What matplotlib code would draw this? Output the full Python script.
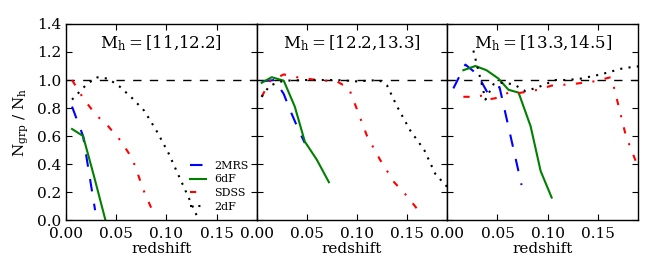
# group completeness vs redshift in three halo mass bins
import numpy as np
import matplotlib
matplotlib.use("Agg")
import matplotlib.pyplot as plt

plt.rcParams['font.family'] = 'serif'
plt.rcParams['font.serif'] = ['DejaVu Serif']
plt.rcParams['mathtext.fontset'] = 'dejavuserif'
plt.rcParams['font.size'] = 11

mass_bins = ["[11{,}12.2]", "[12.2{,}13.3]", "[13.3{,}14.5]"]
survey_names = ["2MRS", "6dF", "SDSS", "2dF"]

# panel 1: M_h = [11,12.2]
z_2mrs_1 = [0.006, 0.017, 0.029]
f_2mrs_1 = [0.81, 0.60, 0.07]
z_6df_1 = [0.006, 0.017, 0.028, 0.040]
f_6df_1 = [0.65, 0.60, 0.31, -0.02]
z_sdss_1 = [0.006, 0.018, 0.030, 0.042, 0.054, 0.066, 0.078, 0.089]
f_sdss_1 = [1.00, 0.86, 0.75, 0.67, 0.57, 0.44, 0.20, 0.02]
z_2df_1 = [0.006, 0.018, 0.030, 0.042, 0.054, 0.066, 0.078, 0.090, 0.102, 0.114, 0.126, 0.131]
f_2df_1 = [0.86, 0.95, 1.02, 1.01, 0.95, 0.87, 0.78, 0.64, 0.48, 0.29, 0.10, 0.02]

# panel 2: M_h = [12.2,13.3]
z_2mrs_2 = [0.005, 0.018, 0.027, 0.033, 0.042, 0.048]
f_2mrs_2 = [0.99, 1.00, 0.90, 0.79, 0.64, 0.55]
z_6df_2 = [0.005, 0.015, 0.027, 0.038, 0.048, 0.060, 0.072]
f_6df_2 = [0.98, 1.02, 0.995, 0.81, 0.56, 0.43, 0.27]
z_sdss_2 = [0.005, 0.013, 0.027, 0.040, 0.060, 0.080, 0.092, 0.100, 0.110, 0.123, 0.137, 0.150, 0.162]
f_sdss_2 = [0.88, 0.99, 1.04, 1.02, 1.00, 0.99, 0.94, 0.79, 0.60, 0.43, 0.27, 0.17, 0.06]
z_2df_2 = [0.005, 0.013, 0.027, 0.050, 0.080, 0.100, 0.122, 0.130, 0.140, 0.153, 0.167, 0.178, 0.188, 0.200]
f_2df_2 = [0.88, 0.96, 0.995, 1.00, 1.00, 0.99, 1.00, 0.96, 0.81, 0.64, 0.50, 0.33, 0.25, 0.17]

# panel 3: M_h = [13.3,14.5]
z_2mrs_3 = [0.006, 0.018, 0.030, 0.040, 0.052, 0.063, 0.074]
f_2mrs_3 = [0.94, 1.11, 1.04, 0.91, 0.95, 0.60, 0.25]
z_6df_3 = [0.016, 0.028, 0.039, 0.051, 0.061, 0.071, 0.083, 0.093, 0.104]
f_6df_3 = [1.07, 1.10, 1.07, 1.01, 0.93, 0.91, 0.67, 0.35, 0.16]
z_sdss_3 = [0.016, 0.028, 0.036, 0.040, 0.048, 0.061, 0.070, 0.090, 0.104, 0.124, 0.146, 0.163, 0.166, 0.178, 0.190]
f_sdss_3 = [0.88, 0.88, 0.89, 0.86, 0.87, 0.91, 0.905, 0.93, 0.96, 0.97, 0.99, 1.02, 0.95, 0.60, 0.38]
z_2df_3 = [0.026, 0.034, 0.038, 0.046, 0.054, 0.066, 0.078, 0.091, 0.108, 0.119, 0.133, 0.153, 0.173, 0.186, 0.195]
f_2df_3 = [1.21, 0.98, 0.86, 0.97, 0.98, 0.97, 0.92, 0.95, 1.00, 1.00, 1.01, 1.04, 1.08, 1.095, 1.10]

panels = [
    [(z_2mrs_1, f_2mrs_1), (z_6df_1, f_6df_1), (z_sdss_1, f_sdss_1), (z_2df_1, f_2df_1)],
    [(z_2mrs_2, f_2mrs_2), (z_6df_2, f_6df_2), (z_sdss_2, f_sdss_2), (z_2df_2, f_2df_2)],
    [(z_2mrs_3, f_2mrs_3), (z_6df_3, f_6df_3), (z_sdss_3, f_sdss_3), (z_2df_3, f_2df_3)],
]
colors = ['b', 'g', 'r', 'k']
dashes = [(6, 6), (), (3, 5, 1, 5), (1, 3)]

fig, axes = plt.subplots(1, 3, figsize=(6.64, 2.73), dpi=100, sharey=True)
fig.subplots_adjust(left=0.0994, right=0.9608, bottom=0.1941, top=0.9121, wspace=0)

for i, ax in enumerate(axes):
    ax.axhline(1.0, color='k', lw=1, dashes=(6, 6))
    for j, (z, f) in enumerate(panels[i]):
        line, = ax.plot(z, f, color=colors[j], lw=1.5, label=survey_names[j])
        if dashes[j]:
            line.set_dashes(dashes[j])
    ax.text(0.5, 0.9, r'$\mathrm{M_h = ' + mass_bins[i] + '}$',
            transform=ax.transAxes, ha='center', va='center', fontsize=12)
    ax.set_xlim(0, 0.19)
    ax.set_ylim(0, 1.4)
    ax.set_xticks([0.0, 0.05, 0.10, 0.15])
    ax.set_xticklabels(['0.00', '0.05', '0.10', '0.15'])
    ax.set_yticks(np.arange(0, 1.41, 0.2))
    ax.tick_params(direction='in', top=True, right=True, length=4, width=0.8)
    ax.tick_params(axis='x', pad=5)
    ax.set_xlabel('redshift', labelpad=1)
    for s in ax.spines.values():
        s.set_linewidth(1.0)

axes[0].set_ylabel(r'$\mathrm{N_{grp}\ /\ N_h}$')
axes[0].set_yticklabels(['%.1f' % v for v in np.arange(0, 1.41, 0.2)])
axes[0].legend(loc='lower right', frameon=False, fontsize=8, handlelength=1.4,
               labelspacing=0.35, borderaxespad=0.3, handletextpad=0.8)

fig.savefig('out.png', dpi=100)
